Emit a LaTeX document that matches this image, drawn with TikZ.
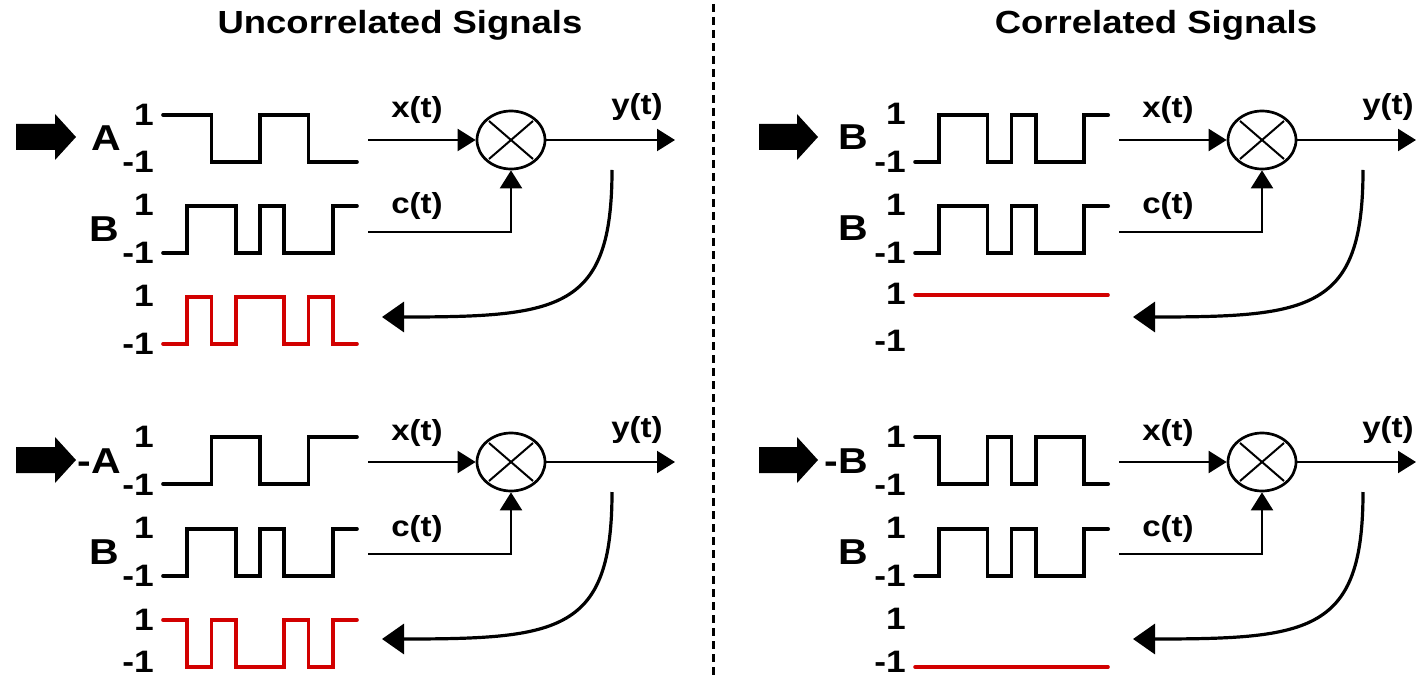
\documentclass[tikz,border=0pt]{standalone}
\usepackage{fontspec}
\setmainfont{Liberation Sans}[FakeStretch=1.14]
\usetikzlibrary{arrows.meta,shapes.geometric}
\definecolor{sigred}{RGB}{210,0,0}
\tikzset{
  wave/.style={line width=3.6pt, line join=miter, line cap=round},
  redwave/.style={wave, draw=sigred},
  num/.style={font=\bfseries\fontsize{31}{33}\selectfont, inner sep=0pt, anchor=east},
  sig/.style={font=\bfseries\fontsize{36}{40}\selectfont, inner sep=0pt, anchor=east},
  ttl/.style={font=\bfseries\fontsize{32}{36}\selectfont, inner sep=0pt, anchor=base},
  fn/.style={font=\bfseries\fontsize{29}{32}\selectfont, inner sep=0pt, anchor=base},
  conn/.style={line width=2.2pt, -{Triangle[length=18pt,width=22pt]}},
  curv/.style={line width=3.2pt, -{Triangle[length=22pt,width=30pt]}},
  mult/.style={ellipse, draw, line width=2.7pt, minimum width=68pt, minimum height=58pt, inner sep=0pt},
  divider/.style={line width=3pt, dash pattern=on 8pt off 5pt}
}
% B pattern: L H H L H L L H
\newcommand\Bsig[3][]{\draw[wave,#1] (#2,#3+\wamp) -- ++(\wunit,0) -- ++(0,-\wamp) -- ++(2*\wunit,0) -- ++(0,\wamp) -- ++(\wunit,0) -- ++(0,-\wamp) -- ++(\wunit,0) -- ++(0,\wamp) -- ++(2*\wunit,0) -- ++(0,-\wamp) -- ++(\wunit,0);}
\newcommand\levels[4]{\node[num] (#1p) at (#2,#3) {1}; \node[num] (#1m) at (#2,#4) {-1};}
\newcommand\bigarrow[3]{\fill (#1,#3-13) -- (#2-21,#3-13) -- (#2-21,#3-23) -- (#2,#3) -- (#2-21,#3+23) -- (#2-21,#3+13) -- (#1,#3+13) -- cycle;}
\newcommand\mixer[4]{%
  \begin{scope}[shift={(#2,#3)}]
    \node[mult] (#1mul) at (511,140) {};
    \draw[line width=2pt] (489,121) -- (533,159) (489,159) -- (533,121);
    \coordinate (#1xin) at (368,140);
    \coordinate (#1cin) at (368,232);
    \coordinate (#1yout) at (#4,140);
    \coordinate (#1cs) at (612,170);
    \coordinate (#1ce) at (382,317);
    \draw[conn] (#1xin) -- (#1mul);
    \draw[conn] (#1cin) -| (#1mul.south);
    \draw[conn] (#1mul.east) -- (#1yout);
    \draw[curv] (#1cs) .. controls (612,310) and (560,317) .. (#1ce);
    \node[fn] (#1xl) at (417,118) {x(t)};
    \node[fn] (#1cl) at (417,214) {c(t)};
    \node[fn] (#1yl) at (637,115) {y(t)};
  \end{scope}}
\begin{document}
\begin{tikzpicture}[x=1pt,y=-1pt]
\useasboundingbox (0,0) rectangle (1418,676);
\def\wunit{24.25}\def\wamp{47}
% titles
\node[ttl] (t1) at (400,34) {Uncorrelated Signals};
\node[ttl] (t2) at (1156,34) {Correlated Signals};
% divider
\coordinate (dtop) at (713,4);
\coordinate (dbot) at (713,676);
\draw[divider] (dtop) -- (dbot);

% ---------- left top ----------
\bigarrow{16}{76}{137}
\node[sig] (lA) at (121,138) {A};
\node[sig] (lB) at (119,229) {B};
\levels{la}{154}{115}{162}
\levels{lb}{154}{205}{253}
\levels{lc}{154}{296}{344}
\draw[wave] (163,115) -- ++(2*\wunit,0) -- ++(0,\wamp) -- ++(2*\wunit,0) -- ++(0,-\wamp) -- ++(2*\wunit,0) -- ++(0,\wamp) -- ++(2*\wunit,0);
\Bsig{163}{206}
\draw[redwave] (163,344) -- ++(\wunit,0) -- ++(0,-\wamp) -- ++(\wunit,0) -- ++(0,\wamp) -- ++(\wunit,0) -- ++(0,-\wamp) -- ++(2*\wunit,0) -- ++(0,\wamp) -- ++(\wunit,0) -- ++(0,-\wamp) -- ++(\wunit,0) -- ++(0,\wamp) -- ++(\wunit,0);
\mixer{lt}{0}{0}{675}

% ---------- left bottom ----------
\bigarrow{16}{76}{460}
\node[sig] (lmA) at (121,461) {-A};
\node[sig] (lB2) at (119,552) {B};
\levels{ld}{154}{437}{485}
\levels{le}{154}{528}{576}
\levels{lf}{154}{620}{662}
\draw[wave] (163,484) -- ++(2*\wunit,0) -- ++(0,-\wamp) -- ++(2*\wunit,0) -- ++(0,\wamp) -- ++(2*\wunit,0) -- ++(0,-\wamp) -- ++(2*\wunit,0);
\Bsig{163}{529}
\draw[redwave] (163,620) -- ++(\wunit,0) -- ++(0,\wamp) -- ++(\wunit,0) -- ++(0,-\wamp) -- ++(\wunit,0) -- ++(0,\wamp) -- ++(2*\wunit,0) -- ++(0,-\wamp) -- ++(\wunit,0) -- ++(0,\wamp) -- ++(\wunit,0) -- ++(0,-\wamp) -- ++(\wunit,0);
\mixer{lb}{0}{322}{675}

% ---------- right top ----------
\def\wunit{24.15}
\bigarrow{759}{818}{137}
\node[sig] (rB1) at (868,137) {B};
\node[sig] (rB2) at (868,228) {B};
\levels{ra}{906}{114}{162}
\levels{rb}{906}{205}{253}
\levels{rc}{906}{294}{341}
\Bsig{915}{115}
\Bsig{915}{206}
\coordinate (rl1a) at (915,295);
\coordinate (rl1b) at (1108,295);
\draw[redwave] (rl1a) -- (rl1b);
\mixer{rt}{751}{0}{665}

% ---------- right bottom ----------
\bigarrow{759}{818}{460}
\node[sig] (rmB) at (868,461) {-B};
\node[sig] (rB3) at (868,552) {B};
\levels{rd}{906}{437}{485}
\levels{re}{906}{528}{576}
\levels{rf}{906}{619}{662}
\draw[wave] (915,437) -- ++(\wunit,0) -- ++(0,\wamp) -- ++(2*\wunit,0) -- ++(0,-\wamp) -- ++(\wunit,0) -- ++(0,\wamp) -- ++(\wunit,0) -- ++(0,-\wamp) -- ++(2*\wunit,0) -- ++(0,\wamp) -- ++(\wunit,0);
\Bsig{915}{529}
\coordinate (rl2a) at (915,667);
\coordinate (rl2b) at (1108,667);
\draw[redwave] (rl2a) -- (rl2b);
\mixer{rb}{751}{322}{665}
\end{tikzpicture}
\end{document}
